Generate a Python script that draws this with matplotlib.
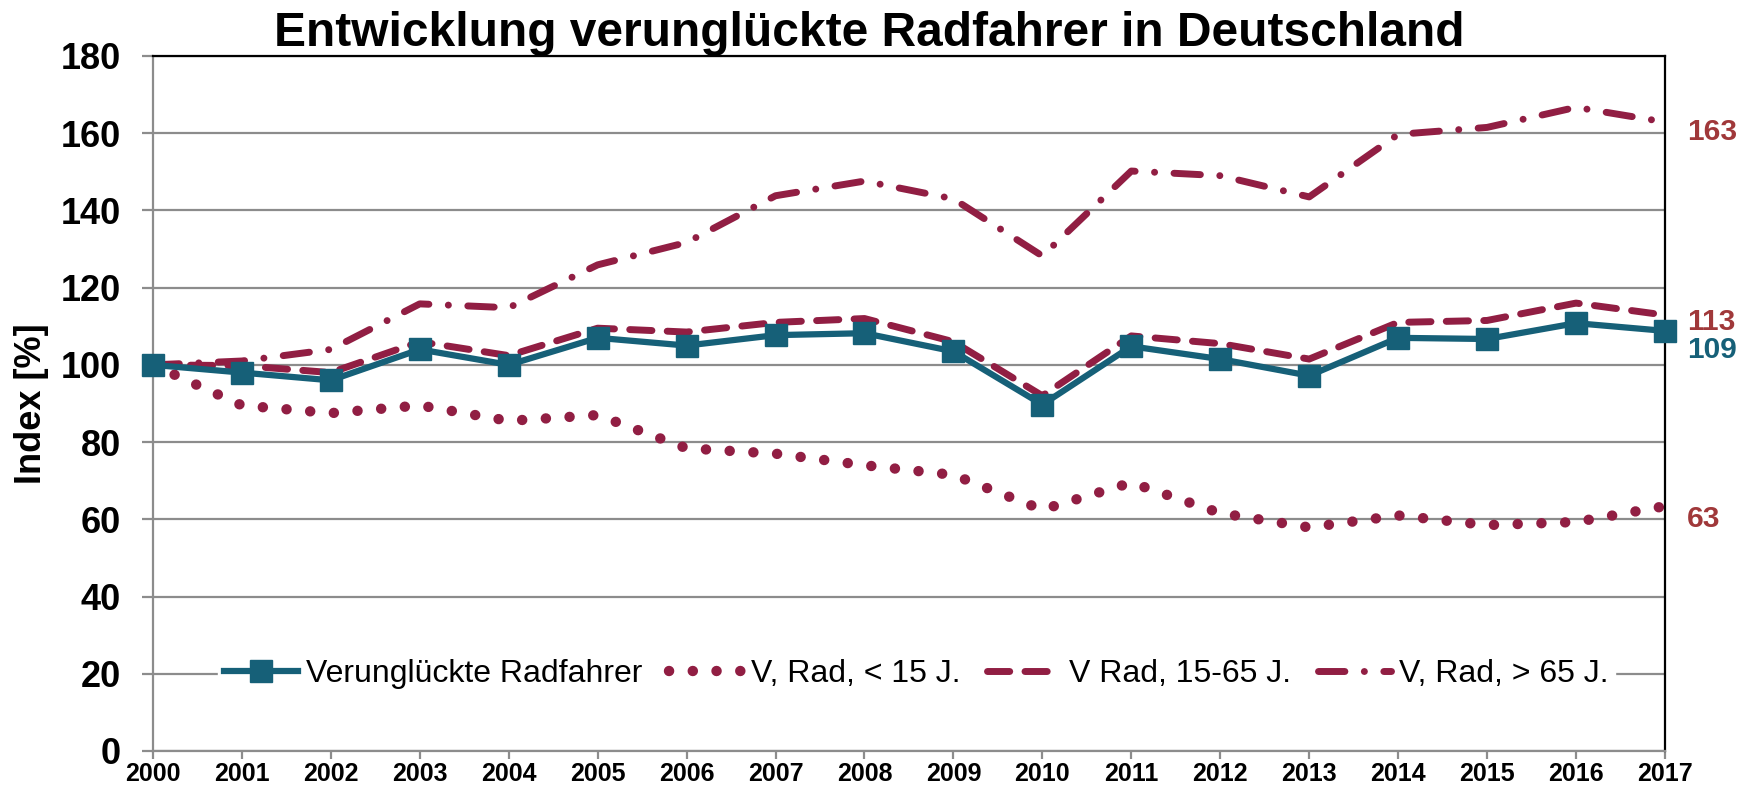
import matplotlib
matplotlib.use("Agg")
import matplotlib.pyplot as plt

plt.rcParams["font.family"] = ["Liberation Sans", "DejaVu Sans"]

# ---- data ----
years = list(range(2000, 2018))
radfahrer = [100, 98, 96, 104, 100, 107, 105, 107.7, 108.2, 103.5, 89.7,
             104.8, 101.5, 97.2, 107, 106.7, 110.8, 108.8]
unter_15 = [100, 89.5, 87.5, 89.5, 85.5, 87, 78.4, 77, 74, 71.5, 62.5,
            69.5, 61.6, 57.9, 61, 58.5, 59.3, 63.4]
mitte_15_65 = [100, 99.8, 98, 106, 102.4, 109.5, 108.5, 111, 112, 106, 92,
               107.5, 105.5, 101.5, 111, 111.5, 116, 112.9]
ueber_65 = [100, 101, 104, 115.8, 114.8, 125.9, 131.7, 143.8, 147.6, 143, 128.2,
            150.2, 149, 143.5, 159.7, 161.5, 166.7, 162.9]

labels = ["Verunglückte Radfahrer", "V, Rad, < 15 J.", "V Rad, 15-65 J.", "V, Rad, > 65 J."]
end_labels = ["109", "63", "113", "163"]

TEAL = "#166078"
MAROON = "#911E43"
BROWN = "#A0383A"
GRID = "#8C8C8C"

fig = plt.figure(figsize=(17.52, 7.93), dpi=100)
ax = fig.add_axes([0.0873, 0.053, 0.863, 0.8764])

ax.set_xlim(2000, 2017)
ax.set_ylim(0, 180)
ax.set_yticks(range(0, 181, 20))
ax.set_xticks(years)
ax.yaxis.grid(True, color=GRID, linewidth=1.6)
ax.set_axisbelow(True)

l_dot, = ax.plot(years, unter_15, color=MAROON, linewidth=7.5,
                 dashes=(0.01, 2.27), dash_capstyle="round", clip_on=False)
l_dash, = ax.plot(years, mitte_15_65, color=MAROON, linewidth=5,
                  dashes=(3.2, 2.2), dash_capstyle="round", clip_on=False)
l_dd, = ax.plot(years, ueber_65, color=MAROON, linewidth=5,
                dashes=(3.8, 2.8, 0.01, 2.8), dash_capstyle="round", clip_on=False)
l_main, = ax.plot(years, radfahrer, color=TEAL, linewidth=4.5, marker="s",
                  markersize=16, clip_on=False, zorder=5)

# end value labels
ax.annotate(end_labels[3], (2017, ueber_65[-1]), xytext=(16, -7), textcoords="offset points",
            color=BROWN, fontsize=21.5, fontweight="bold", va="center", annotation_clip=False)
ax.annotate(end_labels[2], (2017, mitte_15_65[-1]), xytext=(16, -5), textcoords="offset points",
            color=BROWN, fontsize=21.5, fontweight="bold", va="center", annotation_clip=False)
ax.annotate(end_labels[0], (2017, radfahrer[-1]), xytext=(16, -14), textcoords="offset points",
            color=TEAL, fontsize=21.5, fontweight="bold", va="center", annotation_clip=False)
ax.annotate(end_labels[1], (2017, unter_15[-1]), xytext=(16, -9), textcoords="offset points",
            color=BROWN, fontsize=21.5, fontweight="bold", va="center", annotation_clip=False)

for side in ["left", "bottom"]:
    ax.spines[side].set_color(GRID)
    ax.spines[side].set_linewidth(1.6)
for side in ["top", "right"]:
    ax.spines[side].set_color("black")
    ax.spines[side].set_linewidth(1.6)

ax.tick_params(axis="both", color=GRID, width=1.6, length=8)
ax.tick_params(axis="y", pad=15)
ax.tick_params(axis="x", length=6, pad=2)
plt.setp(ax.get_yticklabels(), fontsize=26, fontweight="bold")
plt.setp(ax.get_xticklabels(), fontsize=18, fontweight="bold")
ax.set_ylabel("Index [%]", fontsize=26, fontweight="bold")
ax.yaxis.set_label_coords(-0.069, 0.5)

leg = ax.legend([l_main, l_dot, l_dash, l_dd], labels, ncol=4, loc="center",
                bbox_to_anchor=(0.505, 20 / 180), fontsize=23, frameon=True,
                handlelength=2.3, handletextpad=0.25, columnspacing=0.85,
                borderpad=0.2, fancybox=False)
leg.get_frame().set_facecolor("white")
leg.get_frame().set_edgecolor("white")
leg.get_frame().set_alpha(1)

fig.text(0.496, 0.958, "Entwicklung verunglückte Radfahrer in Deutschland",
         fontsize=34.5, fontweight="bold", ha="center", va="center")

fig.savefig("out.png", dpi=100)
